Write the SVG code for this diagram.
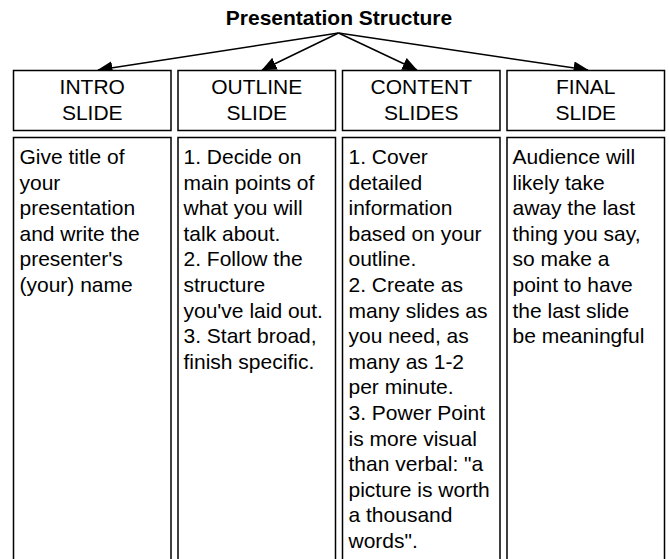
<svg xmlns="http://www.w3.org/2000/svg" width="669" height="559" viewBox="0 0 669 559">
<style>
  .box { fill: #fff; stroke: #000; stroke-width: 1.5; }
  .t { font-family: "Liberation Sans", Arial, Helvetica, sans-serif; font-size: 21px; fill: #000; }
  .h { text-anchor: middle; }
  .title { font-weight: bold; text-anchor: middle; }
  .conn { stroke: #000; stroke-width: 1.5; fill: none; marker-end: url(#arr); }
</style>
<defs>
  <marker id="arr" markerUnits="userSpaceOnUse" markerWidth="16" markerHeight="13" refX="14.5" refY="6.5" orient="auto">
    <path d="M0,0 L15,6.5 L0,13 Z" fill="#000"/>
  </marker>
</defs>
<rect width="669" height="559" fill="#fff"/>

<g id="title">
  <text class="t title" x="339" y="24.5">Presentation Structure</text>
</g>

<g id="connectors">
  <line class="conn" x1="338.5" y1="33" x2="98" y2="70"/>
  <line class="conn" x1="338.5" y1="33" x2="262" y2="70"/>
  <line class="conn" x1="338.5" y1="33" x2="417" y2="70"/>
  <line class="conn" x1="338.5" y1="33" x2="588" y2="70"/>
</g>

<g id="intro-slide">
  <rect class="box" x="13.5" y="70.5" width="157.5" height="60"/>
  <text class="t h" x="92.25" y="94">INTRO</text>
  <text class="t h" x="92.25" y="120">SLIDE</text>
</g>
<g id="outline-slide">
  <rect class="box" x="178" y="70.5" width="157.5" height="60"/>
  <text class="t h" x="256.75" y="94">OUTLINE</text>
  <text class="t h" x="256.75" y="120">SLIDE</text>
</g>
<g id="content-slides">
  <rect class="box" x="342.5" y="70.5" width="157.5" height="60"/>
  <text class="t h" x="421.25" y="94">CONTENT</text>
  <text class="t h" x="421.25" y="120">SLIDES</text>
</g>
<g id="final-slide">
  <rect class="box" x="507" y="70.5" width="157.5" height="60"/>
  <text class="t h" x="585.75" y="94">FINAL</text>
  <text class="t h" x="585.75" y="120">SLIDE</text>
</g>

<g id="intro-body">
  <rect class="box" x="13.5" y="137.5" width="157.5" height="440"/>
  <text class="t" x="19.5" y="164">
    <tspan x="19.5" y="164">Give title of</tspan>
    <tspan x="19.5" y="189.6">your</tspan>
    <tspan x="19.5" y="215.2">presentation</tspan>
    <tspan x="19.5" y="240.8">and write the</tspan>
    <tspan x="19.5" y="266.4">presenter's</tspan>
    <tspan x="19.5" y="292">(your) name</tspan>
  </text>
</g>
<g id="outline-body">
  <rect class="box" x="178" y="137.5" width="157.5" height="440"/>
  <text class="t" x="183.5" y="164">
    <tspan x="183.5" y="164">1. Decide on</tspan>
    <tspan x="183.5" y="189.6">main points of</tspan>
    <tspan x="183.5" y="215.2">what you will</tspan>
    <tspan x="183.5" y="240.8">talk about.</tspan>
    <tspan x="183.5" y="266.4">2. Follow the</tspan>
    <tspan x="183.5" y="292">structure</tspan>
    <tspan x="183.5" y="317.6">you've laid out.</tspan>
    <tspan x="183.5" y="343.2">3. Start broad,</tspan>
    <tspan x="183.5" y="368.8">finish specific.</tspan>
  </text>
</g>
<g id="content-body">
  <rect class="box" x="342.5" y="137.5" width="157.5" height="440"/>
  <text class="t" x="348.5" y="164">
    <tspan x="348.5" y="164">1. Cover</tspan>
    <tspan x="348.5" y="189.6">detailed</tspan>
    <tspan x="348.5" y="215.2">information</tspan>
    <tspan x="348.5" y="240.8">based on your</tspan>
    <tspan x="348.5" y="266.4">outline.</tspan>
    <tspan x="348.5" y="292">2. Create as</tspan>
    <tspan x="348.5" y="317.6">many slides as</tspan>
    <tspan x="348.5" y="343.2">you need, as</tspan>
    <tspan x="348.5" y="368.8">many as 1-2</tspan>
    <tspan x="348.5" y="394.4">per minute.</tspan>
    <tspan x="348.5" y="420">3. Power Point</tspan>
    <tspan x="348.5" y="445.6">is more visual</tspan>
    <tspan x="348.5" y="471.2">than verbal: "a</tspan>
    <tspan x="348.5" y="496.8">picture is worth</tspan>
    <tspan x="348.5" y="522.4">a thousand</tspan>
    <tspan x="348.5" y="548">words".</tspan>
  </text>
</g>
<g id="final-body">
  <rect class="box" x="507" y="137.5" width="157.5" height="440"/>
  <text class="t" x="512.5" y="164">
    <tspan x="512.5" y="164">Audience will</tspan>
    <tspan x="512.5" y="189.6">likely take</tspan>
    <tspan x="512.5" y="215.2">away the last</tspan>
    <tspan x="512.5" y="240.8">thing you say,</tspan>
    <tspan x="512.5" y="266.4">so make a</tspan>
    <tspan x="512.5" y="292">point to have</tspan>
    <tspan x="512.5" y="317.6">the last slide</tspan>
    <tspan x="512.5" y="343.2">be meaningful</tspan>
  </text>
</g>
</svg>
